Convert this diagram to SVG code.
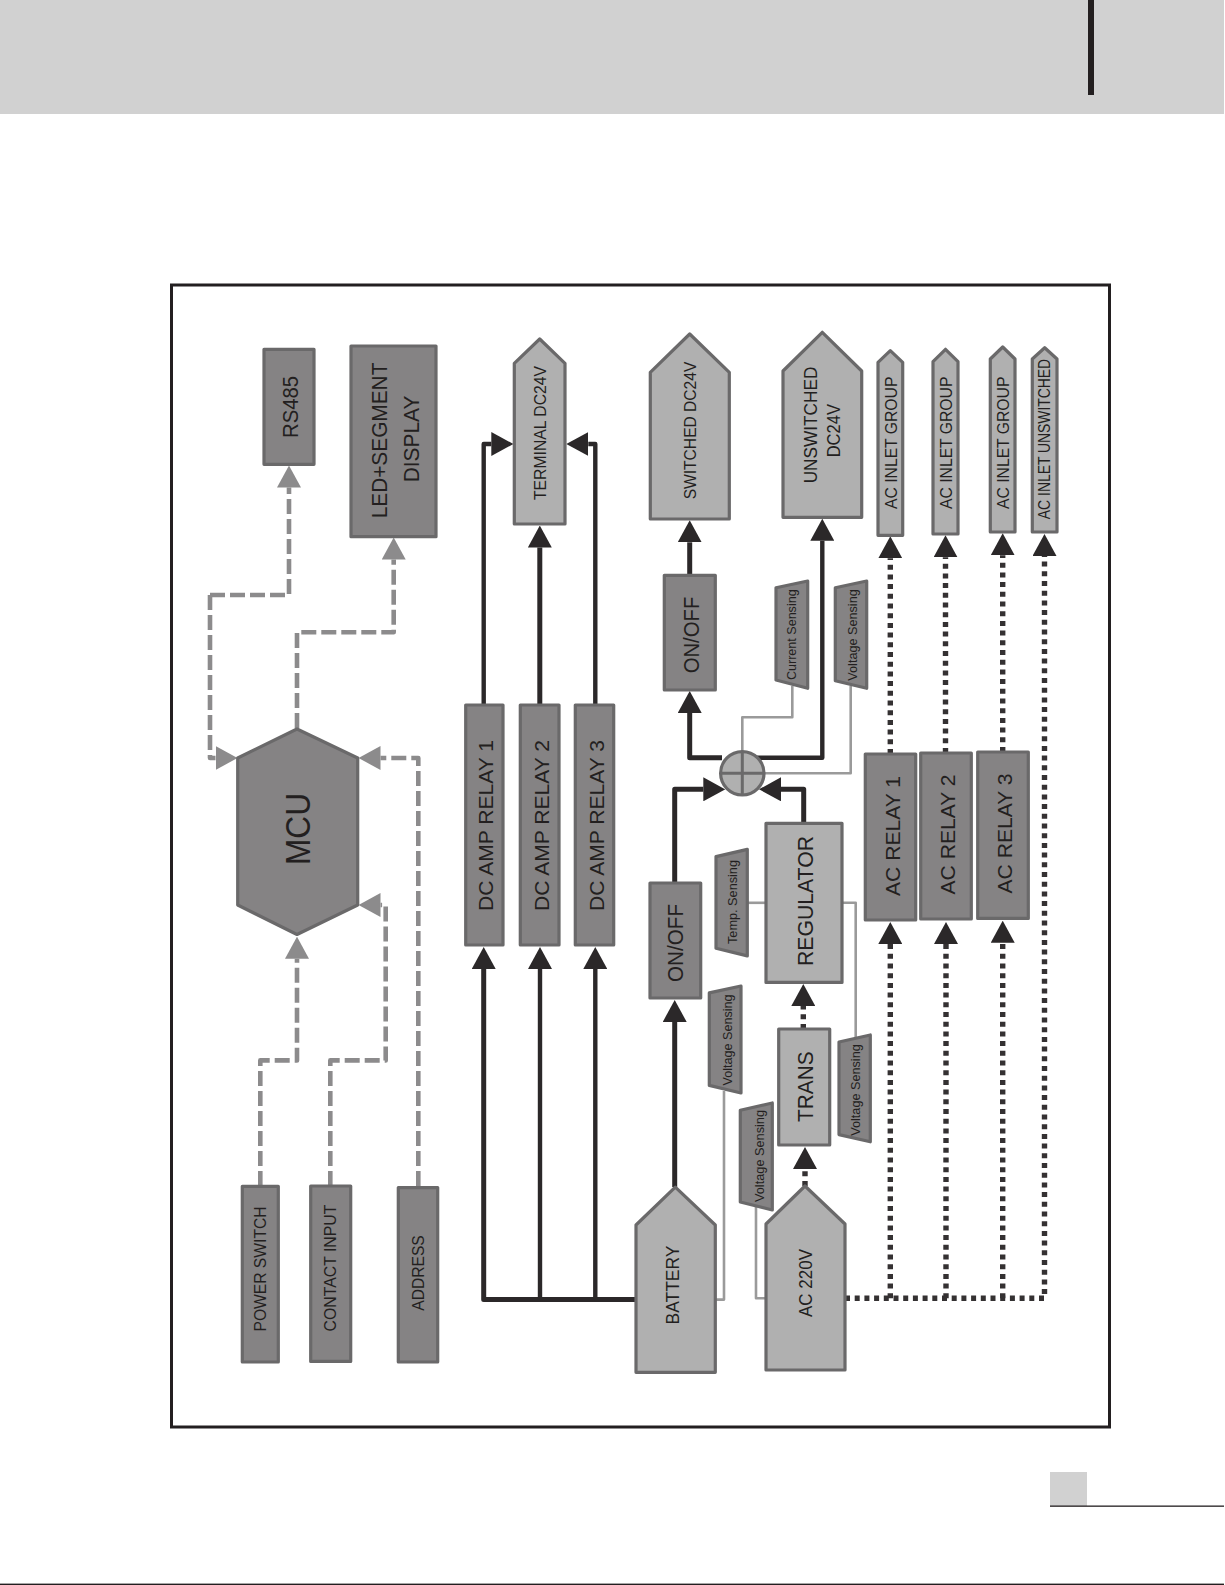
<svg xmlns="http://www.w3.org/2000/svg" width="1225" height="1585" viewBox="0 0 1225 1585">
<style>
text{font-family:"Liberation Sans",Arial,sans-serif;fill:#231f20;text-anchor:middle}
.d,.l,.s{stroke:#6a696a;stroke-width:3.2;stroke-linejoin:round}
.d{fill:#858384}
.l{fill:#b0b0b0}
.s{fill:#858384}
.c{fill:none;stroke-linejoin:round}
.k{stroke:#2b2829;stroke-width:4.4}
.h{stroke:#2b2829;stroke-width:5}
.g{stroke:#8c8b8c;stroke-width:4.6;stroke-dasharray:15 5}
.t{stroke:#343132;stroke-width:5.4;stroke-dasharray:5 4.7}
.w{stroke:#9a9a9a;stroke-width:2.6}
.ak{marker-end:url(#hk)}
.ag{marker-end:url(#hg)}
</style>
<defs>
<marker id="hk" markerUnits="userSpaceOnUse" markerWidth="22" markerHeight="24" viewBox="0 0 22 24" refX="0" refY="12" orient="auto"><path d="M0 0L22 12L0 24z" fill="#2b2829"/></marker>
<marker id="hg" markerUnits="userSpaceOnUse" markerWidth="22" markerHeight="24" viewBox="0 0 22 24" refX="0" refY="12" orient="auto"><path d="M0 0L22 12L0 24z" fill="#8c8b8c"/></marker>
</defs>
<rect width="1225" height="1585" fill="#fff"/>
<g id="page">
<rect x="0" y="0" width="1224" height="114" fill="#d1d1d1"/>
<rect x="1088" y="0" width="6" height="95" fill="#231f20"/>
<rect x="1050" y="1472" width="37" height="34" fill="#d1d1d1"/>
<rect x="1050" y="1505.5" width="174" height="1.3" fill="#231f20"/>
<rect x="0" y="1583.6" width="1224" height="1.4" fill="#231f20"/>
<rect id="frame" x="171.5" y="285" width="938" height="1142" fill="none" stroke="#231f20" stroke-width="3"/>
</g>
<g id="connectors">
<path class="c g ag" d="M210 595H289V487.5"/>
<path class="c g ag" d="M210 595V758H215.5"/>
<path class="c g ag" d="M297 728V632.3H393.7V559.5"/>
<path class="c g ag" d="M418.3 1186V758H380.5"/>
<path class="c g ag" d="M260.3 1186V1060.4H297V958.7"/>
<path class="c g ag" d="M330.3 1186V1060.4H385.7V905H380.5"/>
<path class="c k ak" d="M483.7 705V444H491.3"/>
<path class="c h ak" d="M539.8 705V547.5"/>
<path class="c k ak" d="M595.3 705V444H588.3"/>
<path class="c h ak" d="M636 1299.5H483.7V969"/>
<path class="c k ak" d="M540 1299.5V969"/>
<path class="c k ak" d="M595.3 1299.5V969"/>
<path class="c h ak" d="M689.7 575.3V542.3"/>
<path class="c h ak" d="M722 757.7H689.7V713"/>
<path class="c k ak" d="M752 757.7H822.3V540.7"/>
<path class="c h ak" d="M674.7 883V789.3H703.3"/>
<path class="c h ak" d="M803.7 823V789.3H781"/>
<path class="c h ak" d="M674.7 1187V1022"/>
<path class="c t ak" d="M803.3 1029V1006"/>
<path class="c t ak" d="M805 1186V1169"/>
<path class="c t ak" d="M890.3 754V558.3"/>
<path class="c t ak" d="M945.5 753V557.3"/>
<path class="c t ak" d="M1002.7 752V555.3"/>
<path class="c t ak" d="M845 1298.3H1044.5V556"/>
<path class="c t ak" d="M890.3 1298.3V944"/>
<path class="c t ak" d="M946 1298.3V944"/>
<path class="c t ak" d="M1002.7 1298.3V942.7"/>
<path class="c w" d="M742.3 752V717.3H792.3V685.7"/>
<path class="c w" d="M764 773.3H850.7V685.7"/>
<path class="c w" d="M747 902.8H766"/>
<path class="c w" d="M842 902.8H855.7V1037.5"/>
<path class="c w" d="M724 1091V1299.6H715"/>
<path class="c w" d="M756 1205V1298.3H766"/>
</g>
<g id="rs485"><rect class="d" x="264" y="349.3" width="50" height="115"/><text transform="translate(297.7 407) rotate(-90)" font-size="22" textLength="62" lengthAdjust="spacingAndGlyphs">RS485</text></g>
<g id="display"><rect class="d" x="351" y="346" width="85" height="190.7"/><text transform="translate(387.3 440.5) rotate(-90)" font-size="22" textLength="155.7" lengthAdjust="spacingAndGlyphs">LED+SEGMENT</text><text transform="translate(419 439) rotate(-90)" font-size="22" textLength="86.7" lengthAdjust="spacingAndGlyphs">DISPLAY</text></g>
<g id="mcu"><path class="d" d="M297 729L357.7 758V905L297 934.5L237.7 905V758z"/><text transform="translate(310 829) rotate(-90)" font-size="35" textLength="72" lengthAdjust="spacingAndGlyphs">MCU</text></g>
<g id="power-switch"><rect class="d" x="242.3" y="1186.3" width="36" height="175.7"/><text transform="translate(266 1269) rotate(-90)" font-size="16.5" textLength="125" lengthAdjust="spacingAndGlyphs">POWER SWITCH</text></g>
<g id="contact-input"><rect class="d" x="310.7" y="1186" width="40" height="175.4"/><text transform="translate(336 1268) rotate(-90)" font-size="16.5" textLength="126.8" lengthAdjust="spacingAndGlyphs">CONTACT INPUT</text></g>
<g id="address"><rect class="d" x="398.3" y="1187.6" width="39.4" height="174.4"/><text transform="translate(424.3 1273) rotate(-90)" font-size="16.5" textLength="75.6" lengthAdjust="spacingAndGlyphs">ADDRESS</text></g>
<g id="terminal"><path class="l" d="M539.7 339L565 363.3V524H514.3V363.3z"/><text transform="translate(545.7 433) rotate(-90)" font-size="17" textLength="134" lengthAdjust="spacingAndGlyphs">TERMINAL DC24V</text></g>
<g id="dc-relay-1"><rect class="d" x="465.7" y="705" width="37.3" height="240"/><text transform="translate(493.3 825.5) rotate(-90)" font-size="20.5" textLength="171" lengthAdjust="spacingAndGlyphs">DC AMP RELAY 1</text></g>
<g id="dc-relay-2"><rect class="d" x="520.3" y="705" width="38.7" height="240"/><text transform="translate(549 825.5) rotate(-90)" font-size="20.5" textLength="171" lengthAdjust="spacingAndGlyphs">DC AMP RELAY 2</text></g>
<g id="dc-relay-3"><rect class="d" x="575.3" y="705" width="38.4" height="240"/><text transform="translate(604.3 825.5) rotate(-90)" font-size="20.5" textLength="171" lengthAdjust="spacingAndGlyphs">DC AMP RELAY 3</text></g>
<g id="switched"><path class="l" d="M689.7 334L729.3 372.3V519H650.3V372.3z"/><text transform="translate(696 430.5) rotate(-90)" font-size="17" textLength="137.7" lengthAdjust="spacingAndGlyphs">SWITCHED DC24V</text></g>
<g id="unswitched"><path class="l" d="M822.3 332.3L861.7 371V517.3H783V371z"/><text transform="translate(817.3 425) rotate(-90)" font-size="18.5" textLength="116.7" lengthAdjust="spacingAndGlyphs">UNSWITCHED</text><text transform="translate(840 430.7) rotate(-90)" font-size="18.5" textLength="53.3" lengthAdjust="spacingAndGlyphs">DC24V</text></g>
<g id="ac-inlet-1"><path class="l" d="M890.3 350.7L902.7 362.3V535.3H878V362.3z"/><text transform="translate(896.7 442.8) rotate(-90)" font-size="17" textLength="132.3" lengthAdjust="spacingAndGlyphs">AC INLET GROUP</text></g>
<g id="ac-inlet-2"><path class="l" d="M945.5 349.3L958 361.7V534H933V361.7z"/><text transform="translate(952 442.8) rotate(-90)" font-size="17" textLength="132.3" lengthAdjust="spacingAndGlyphs">AC INLET GROUP</text></g>
<g id="ac-inlet-3"><path class="l" d="M1002.7 347L1015 359V532H990.3V359z"/><text transform="translate(1009 442.8) rotate(-90)" font-size="17" textLength="132.3" lengthAdjust="spacingAndGlyphs">AC INLET GROUP</text></g>
<g id="ac-inlet-unswitched"><path class="l" d="M1044.7 347.7L1057 359V532H1032.3V359z"/><text transform="translate(1050 439) rotate(-90)" font-size="16" textLength="160.3" lengthAdjust="spacingAndGlyphs">AC INLET UNSWITCHED</text></g>
<g id="onoff-top"><rect class="d" x="664.3" y="575.3" width="51" height="114.7"/><text transform="translate(699 635) rotate(-90)" font-size="22.5" textLength="76.7" lengthAdjust="spacingAndGlyphs">ON/OFF</text></g>
<g id="current-sensing"><path class="s" d="M776 587.7L807.7 581V688.3L776 680z"/><text transform="translate(795.7 634.7) rotate(-90)" font-size="13" textLength="90.7" lengthAdjust="spacingAndGlyphs">Current Sensing</text></g>
<g id="voltage-sensing-out"><path class="s" d="M835.3 587.7L866.7 581V688.3L835.3 680.7z"/><text transform="translate(856.7 635) rotate(-90)" font-size="13" textLength="91.4" lengthAdjust="spacingAndGlyphs">Voltage Sensing</text></g>
<g id="summing"><circle class="l" cx="742.3" cy="773.3" r="21.7"/><path class="c" d="M720.6 773.3H764M742.3 751.6V795" stroke="#6a696a" stroke-width="3"/></g>
<g id="ac-relay-1"><rect class="d" x="865.3" y="754" width="50.4" height="166"/><text transform="translate(900 836) rotate(-90)" font-size="21" textLength="120" lengthAdjust="spacingAndGlyphs">AC RELAY 1</text></g>
<g id="ac-relay-2"><rect class="d" x="920.7" y="753" width="50.6" height="166"/><text transform="translate(955 834.5) rotate(-90)" font-size="21" textLength="120" lengthAdjust="spacingAndGlyphs">AC RELAY 2</text></g>
<g id="ac-relay-3"><rect class="d" x="977.7" y="752" width="50.6" height="166.4"/><text transform="translate(1012.3 833.5) rotate(-90)" font-size="21" textLength="120" lengthAdjust="spacingAndGlyphs">AC RELAY 3</text></g>
<g id="onoff-battery"><rect class="d" x="650" y="883" width="50.7" height="115"/><text transform="translate(683.3 943) rotate(-90)" font-size="22.5" textLength="78" lengthAdjust="spacingAndGlyphs">ON/OFF</text></g>
<g id="regulator"><rect class="l" x="766" y="823.3" width="76" height="159.1"/><text transform="translate(813.3 901) rotate(-90)" font-size="21.5" textLength="130" lengthAdjust="spacingAndGlyphs">REGULATOR</text></g>
<g id="trans"><rect class="l" x="778.7" y="1029" width="51" height="116"/><text transform="translate(813.3 1086.7) rotate(-90)" font-size="21.5" textLength="70.7" lengthAdjust="spacingAndGlyphs">TRANS</text></g>
<g id="temp-sensing"><path class="s" d="M716 856.6L747.3 849.4V955.9L716 948.3z"/><text transform="translate(736.7 902) rotate(-90)" font-size="13" textLength="84" lengthAdjust="spacingAndGlyphs">Temp. Sensing</text></g>
<g id="voltage-sensing-battery"><path class="s" d="M709.3 992.9L741 986V1093L709.3 1085.4z"/><text transform="translate(731.7 1040) rotate(-90)" font-size="13" textLength="91" lengthAdjust="spacingAndGlyphs">Voltage Sensing</text></g>
<g id="voltage-sensing-ac"><path class="s" d="M740.3 1110.2L772.3 1103V1210L740.3 1202z"/><text transform="translate(764 1156) rotate(-90)" font-size="13" textLength="92" lengthAdjust="spacingAndGlyphs">Voltage Sensing</text></g>
<g id="voltage-sensing-regulator"><path class="s" d="M839 1042L870.3 1035V1141.8L839 1134.6z"/><text transform="translate(860 1090) rotate(-90)" font-size="13" textLength="91.5" lengthAdjust="spacingAndGlyphs">Voltage Sensing</text></g>
<g id="battery"><path class="l" d="M675.3 1187.2L715.3 1225V1372.3H636V1225z"/><text transform="translate(679.3 1285) rotate(-90)" font-size="18.5" textLength="79" lengthAdjust="spacingAndGlyphs">BATTERY</text></g>
<g id="ac-220v"><path class="l" d="M805 1186L845 1224V1370H766V1224z"/><text transform="translate(811.7 1283) rotate(-90)" font-size="18.5" textLength="68" lengthAdjust="spacingAndGlyphs">AC 220V</text></g>
</svg>
